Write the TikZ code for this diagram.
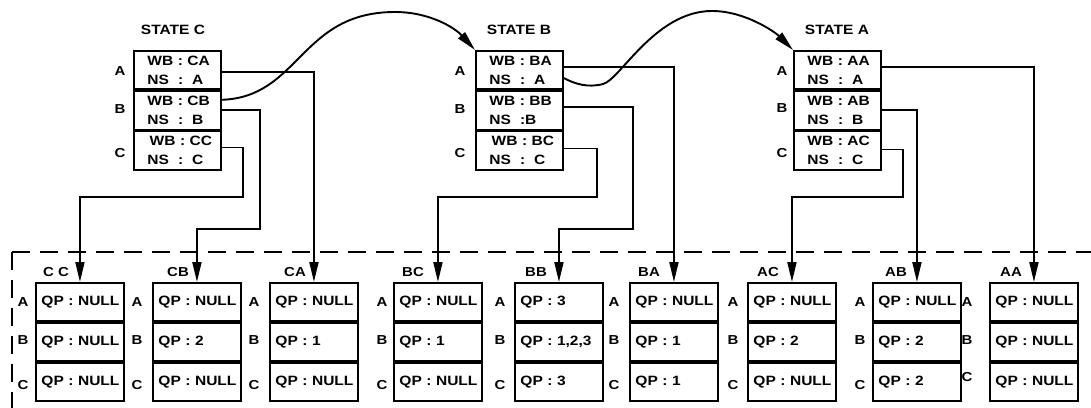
\documentclass[tikz,border=0pt]{standalone}
\usepackage{fontspec}
\setmainfont{Liberation Sans}[FakeStretch=1.15]
\usetikzlibrary{arrows.meta}
\begin{document}
\begin{tikzpicture}[x=1pt,y=-1pt]
\tikzset{
 ln/.style={line width=1.9pt},
 arr/.style={ln,-{Triangle[length=20pt,width=9pt]}},
 srow/.style={draw,ln,text width=60pt,inner xsep=13.5pt,inner ysep=0pt,minimum height=38.3pt,align=left,anchor=north west,font=\fontsize{13.5}{19}\selectfont\bfseries},
 qrow/.style={draw,ln,text width=77pt,inner xsep=5.5pt,inner ysep=0pt,minimum height=38pt,align=left,anchor=north west,font=\fontsize{13.5}{16}\selectfont\bfseries},
 lbl/.style={font=\fontsize{13}{14}\selectfont\bfseries,inner sep=0pt},
 ttl/.style={font=\fontsize{13.5}{16}\selectfont\bfseries,inner sep=0pt},
 dashbox/.style={line width=2.1pt,dash pattern=on 18pt off 10pt}
}
\useasboundingbox (0,0) rectangle (1091,407);
\fill[white] (0,0) rectangle (1091,407);
\clip (0,0) rectangle (1091,407);

% dashed frame
\coordinate (dc) at (12,252);
\draw[dashbox] (dc) -- (1100,252);
\draw[dashbox] (dc) -- (12,420);

% ---------- state boxes
\node[ttl] (tC) at (173,30) {STATE~C};
\node[srow] (sCa) at (133,50) {WB~:~CA\\NS~~:~~A};
\node[srow] (sCb) at (sCa.south west) {WB~:~CB\\NS~~:~~B};
\node[srow] (sCc) at (sCb.south west) {\,WB~:~CC\\NS~~:~~C};
\node[lbl] (lCa) at (120,71) {A};
\node[lbl] (lCb) at (120,109) {B};
\node[lbl] (lCc) at (120,153) {C};

\node[ttl] (tB) at (519,30) {STATE~B};
\node[srow] (sBa) at (475,50) {WB~:~BA\\NS~~:~~A};
\node[srow] (sBb) at (sBa.south west) {WB~:~BB\\NS~~:B};
\node[srow] (sBc) at (sBb.south west) {\,WB~:~BC\\NS~~:~~C};
\node[lbl] (lBa) at (460,71) {A};
\node[lbl] (lBb) at (460,109) {B};
\node[lbl] (lBc) at (460,153) {C};

\node[ttl] (tA) at (837,30) {STATE~A};
\node[srow] (sAa) at (793,50) {WB~:~AA\\NS~~:~~A};
\node[srow] (sAb) at (sAa.south west) {WB~:~AB\\NS~~:~~B};
\node[srow] (sAc) at (sAb.south west) {WB~:~AC\\NS~~:~~C};
\node[lbl] (lAa) at (782,71) {A};
\node[lbl] (lAb) at (782,108) {B};
\node[lbl] (lAc) at (782,153) {C};

% ---------- QP boxes
\newcommand\qpcol[9]{%
 \node[qrow] (#1a) at (#2,282) {#3};
 \node[qrow] (#1b) at (#1a.south west) {#4};
 \node[qrow] (#1c) at (#1b.south west) {#5};
 \node[lbl] (#1t) at (#7,272) {#6};
 \node[lbl] (#1la) at (#2-#8,302) {A};
 \node[lbl] (#1lb) at (#2-#8,340) {B};
 \node[lbl] (#1lc) at (#2-#8,#9) {C};
}
\qpcol{qCC}{35}{QP~:~NULL}{QP~:~NULL}{QP~:~NULL}{C~C}{56}{12}{385}
\qpcol{qCB}{152}{QP~:~NULL}{QP~:~2}{QP~:~NULL}{CB}{178}{15}{385}
\qpcol{qCA}{269}{QP~:~NULL}{QP~:~1}{QP~:~NULL}{CA}{295}{15}{385}
\qpcol{qBC}{393}{QP~:~NULL}{QP~:~1}{QP~:~NULL}{BC}{413}{11}{385}
\qpcol{qBB}{514}{QP~:~3}{QP~:~1,2,3}{QP~:~3}{BB}{536}{14}{385}
\qpcol{qBA}{629}{QP~:~NULL}{QP~:~1}{QP~:~1}{BA}{649}{15}{385}
\qpcol{qAC}{747}{QP~:~NULL}{QP~:~2}{QP~:~NULL}{AC}{768}{14}{385}
\qpcol{qAB}{872}{QP~:~NULL}{QP~:~2}{QP~:~2}{AB}{896}{12}{385}
\qpcol{qAA}{989}{QP~:~NULL}{QP~:~NULL}{QP~:~NULL}{AA}{1011}{22}{377}

% ---------- bend points
\coordinate (bCc) at (243,197);
\coordinate (bCb) at (260,229);
\coordinate (bBc) at (597,197);
\coordinate (bBb) at (633,229);
\coordinate (bAc) at (903,197);

% ---------- connectors
\draw[arr] ([yshift=-2pt]sCa.east) -| (qCAa.north);
\draw[arr] (sCb.east) -| (bCb) -| (qCBa.north);
\draw[arr] ([yshift=3pt]sCc.east) -| (bCc) -| (qCCa.north);

\draw[arr] ([yshift=3pt]sBa.east) -| (qBAa.north);
\draw[arr] ([yshift=3.5pt]sBb.east) -| (bBb) -| (qBBa.north);
\draw[arr] ([yshift=2pt]sBc.east) -| (bBc) -| (qBCa.north);

\draw[arr] ([yshift=3pt]sAa.east) -| (qAAa.north);
\draw[arr] (sAb.east) -| (qABa.north);
\draw[arr] ([yshift=1pt]sAc.east) -| (bAc) -| (qACa.north);

% ---------- curved transitions
\coordinate (pk1) at (395,12);
\coordinate (dp2) at (603,84);
\coordinate (pk2) at (712,11);
\draw[arr] ([yshift=10.5pt]sCb.east) .. controls (300,97) and (300,12) .. (pk1)
  .. controls (430,12) and (455,28) .. (sBa.north west);
\draw[arr] ([yshift=-8pt]sBa.east) .. controls (575,84) and (588,88) .. (dp2)
  .. controls (620,80) and (655,11) .. (pk2)
  .. controls (745,11) and (775,32) .. (sAa.north west);
\end{tikzpicture}
\end{document}
